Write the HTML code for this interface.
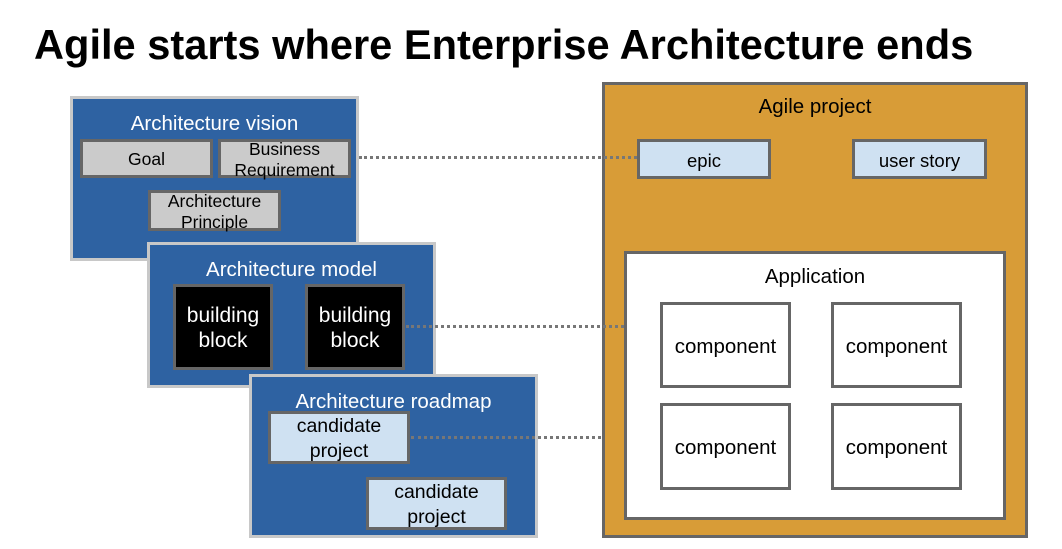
<!DOCTYPE html>
<html><head><meta charset="utf-8"><style>
*{margin:0;padding:0;box-sizing:border-box}
body{width:1062px;height:549px;background:#fff;position:relative;font-family:"Liberation Sans",Arial,sans-serif;overflow:hidden}
.a{position:absolute}
.t{position:absolute;white-space:nowrap}
.blue{position:absolute;background:#2e62a2;border:3px solid #c8c8c8}
.bx{position:absolute;border:3px solid #666;display:flex;align-items:center;justify-content:center;text-align:center;font-size:17.5px;line-height:21px;color:#000;padding-top:2px}
.g{background:#cbcbcb}
.lb{background:#cfe1f2}
.k{background:#000;color:#fff;font-size:21px;line-height:25px}
.w{background:#fff;font-size:20.5px}
.h{position:absolute;left:0;right:0;text-align:center;color:#fff;font-size:20.5px}
.dot{position:absolute;height:0;border-top:3px dotted #777}
</style></head><body>
<div class="t" style="left:34px;top:21px;font-size:41.6px;font-weight:bold">Agile starts where Enterprise Architecture ends</div>

<div class="a" style="left:602px;top:82px;width:426px;height:456px;background:#d89c37;border:3px solid #666"></div>
<div class="t" style="left:602px;width:426px;top:95px;text-align:center;font-size:20.5px">Agile project</div>
<div class="bx lb" style="left:637px;top:139px;width:134px;height:40px;font-size:18.5px">epic</div>
<div class="bx lb" style="left:852px;top:139px;width:135px;height:40px;font-size:18.5px">user story</div>
<div class="a" style="left:624px;top:251px;width:382px;height:269px;background:#fff;border:3px solid #666"></div>
<div class="t" style="left:624px;width:382px;top:265px;text-align:center;font-size:20.5px">Application</div>
<div class="bx w" style="left:660px;top:302px;width:131px;height:86px">component</div>
<div class="bx w" style="left:831px;top:302px;width:131px;height:86px">component</div>
<div class="bx w" style="left:660px;top:403px;width:131px;height:87px">component</div>
<div class="bx w" style="left:831px;top:403px;width:131px;height:87px">component</div>

<div class="blue" style="left:70px;top:96px;width:289px;height:165px"><div class="h" style="top:13px">Architecture vision</div></div>
<div class="bx g" style="left:80px;top:139px;width:133px;height:39px">Goal</div>
<div class="bx g" style="left:218px;top:139px;width:133px;height:39px">Business<br>Requirement</div>
<div class="bx g" style="left:148px;top:190px;width:133px;height:41px">Architecture<br>Principle</div>

<div class="blue" style="left:147px;top:242px;width:289px;height:146px"><div class="h" style="top:13px">Architecture model</div></div>
<div class="bx k" style="left:173px;top:284px;width:100px;height:86px">building<br>block</div>
<div class="bx k" style="left:305px;top:284px;width:100px;height:86px">building<br>block</div>

<div class="blue" style="left:249px;top:374px;width:289px;height:164px"><div class="h" style="top:13px">Architecture roadmap</div></div>
<div class="bx lb" style="left:268px;top:411px;width:142px;height:53px;font-size:19.5px;line-height:25px">candidate<br>project</div>
<div class="bx lb" style="left:366px;top:477px;width:141px;height:53px;font-size:19.5px;line-height:25px">candidate<br>project</div>

<div class="dot" style="left:359px;top:156px;width:278px"></div>
<div class="dot" style="left:406px;top:325px;width:218px"></div>
<div class="dot" style="left:411px;top:436px;width:190px"></div>
</body></html>
